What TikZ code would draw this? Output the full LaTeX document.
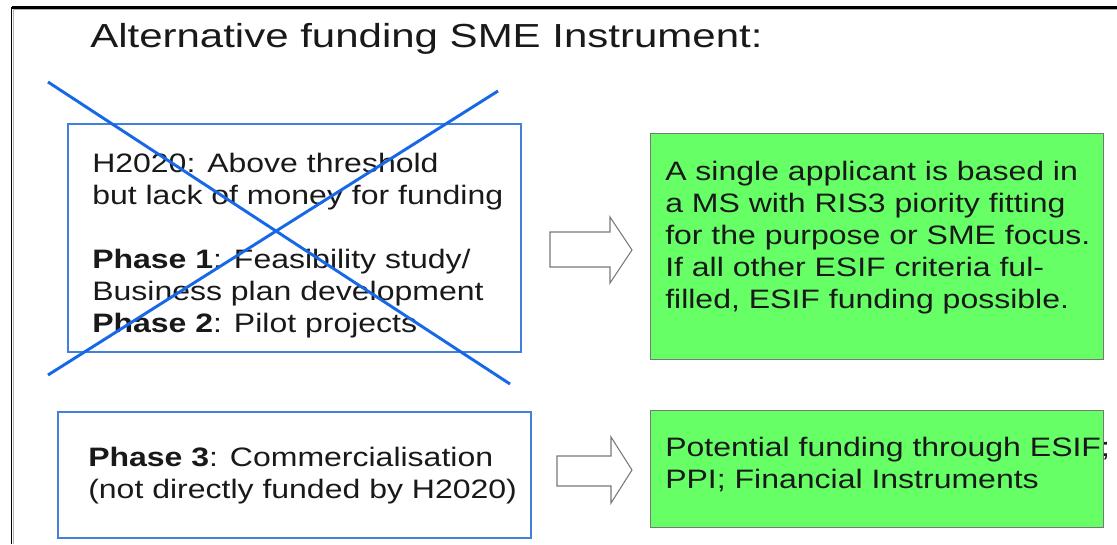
\documentclass[tikz,border=0pt]{standalone}
\usepackage{fontspec}
\setmainfont{Liberation Sans}
\usepackage{graphicx}
\definecolor{boxblue}{RGB}{66,128,222}
\definecolor{crossblue}{RGB}{22,104,230}
\definecolor{boxgreen}{RGB}{102,255,102}
\definecolor{txt}{RGB}{25,25,25}
\definecolor{edgegray}{RGB}{120,120,120}
\newcommand{\wtext}[2][1.2]{\scalebox{#1}[1]{#2}}
\begin{document}
\begin{tikzpicture}[x=0.75pt,y=-0.75pt,
  bluebox/.style={draw=boxblue, line width=1.6pt, inner sep=0, anchor=north west},
  greenbox/.style={draw=edgegray, fill=boxgreen, line width=0.8pt, inner sep=0, anchor=north west},
  boxtext/.style={anchor=base west, inner sep=0, text=txt, font=\fontsize{20}{24}\selectfont},
  blockarrow/.style={draw=edgegray, fill=white, line width=0.8pt, line join=miter},
  cross/.style={draw=crossblue, line width=2.2pt}]
\useasboundingbox (0,0) rectangle (1117,544);
% frame
\draw[gray!60, line width=1.2pt] (13,9.5) -- (1117,9.5);
\draw[gray!60, line width=1.2pt] (13.5,9) -- (13.5,544);
\draw[black, line width=1.6pt] (11.5,7.5) -- (1117,7.5);
\draw[black, line width=1.2pt] (11.5,7) -- (11.5,544);
% title
\node[anchor=base west, inner sep=0, text=txt, font=\fontsize{25}{30}\selectfont] (title) at (90,47) {\wtext[1.26]{Alternative funding SME Instrument:}};
% boxes
\node[bluebox, minimum width=453*0.75pt, minimum height=228*0.75pt] (b1) at (67,123) {};
\node[bluebox, minimum width=473*0.75pt, minimum height=126*0.75pt] (b2) at (57,411) {};
\node[greenbox, minimum width=453*0.75pt, minimum height=226*0.75pt] (g1) at (650,133) {};
\node[greenbox, minimum width=453*0.75pt, minimum height=117*0.75pt] (g2) at (650,410) {};
% texts
\node[boxtext] (t1) at (92,172) {\wtext{\begin{tabular}[t]{@{}l@{}}H2020: Above threshold\\ but lack of money for funding\\ \\ \textbf{Phase 1}: Feasibility study/\\ Business plan development\\ \textbf{Phase 2}: Pilot projects\end{tabular}}};
\node[boxtext] (t2) at (88,466) {\wtext{\begin{tabular}[t]{@{}l@{}}\textbf{Phase 3}: Commercialisation\\ (not directly funded by H2020)\end{tabular}}};
\node[boxtext] (t3) at (665,180) {\wtext{\begin{tabular}[t]{@{}l@{}}A single applicant is based in\\ a MS with RIS3 piority fitting\\ for the purpose or SME focus.\\ If all other ESIF criteria ful-\\ filled, ESIF funding possible.\end{tabular}}};
\node[boxtext] (t4) at (665,456) {\wtext{\begin{tabular}[t]{@{}l@{}}Potential funding through ESIF;\\ PPI; Financial Instruments\end{tabular}}};
% cross over first box
\coordinate (c1a) at (48,82);
\coordinate (c1b) at (510,384);
\coordinate (c2a) at (48,375);
\coordinate (c2b) at (498,91);
\draw[cross] (c1a) -- (c1b);
\draw[cross] (c2a) -- (c2b);
% block arrows
\draw[blockarrow] (550,232) -- (610,232) -- (610,217) -- (632,250) -- (610,283) -- (610,267) -- (550,267) -- cycle;
\draw[blockarrow] (557,456) -- (611,456) -- (611,437) -- (632,470) -- (611,503) -- (611,486) -- (557,486) -- cycle;
\end{tikzpicture}
\end{document}
